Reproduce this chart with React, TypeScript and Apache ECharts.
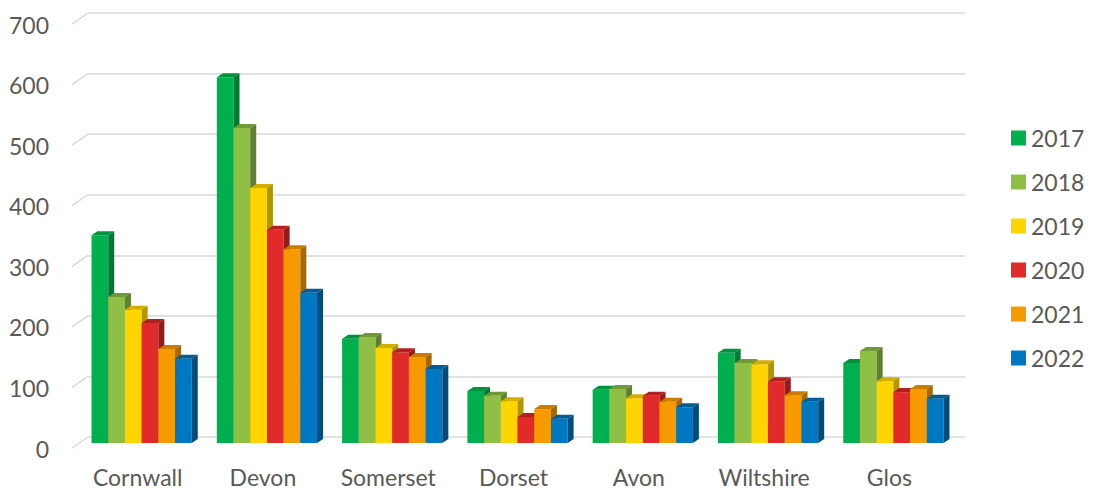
import React, { useEffect, useRef } from "react";
import * as echarts from "echarts";

const categories = ["Cornwall", "Devon", "Somerset", "Dorset", "Avon", "Wiltshire", "Glos"];
const years = ["2017", "2018", "2019", "2020", "2021", "2022"];
const v2017 = [343, 604, 172, 86, 88, 149, 132];
const v2018 = [241, 520, 175, 78, 89, 132, 152];
const v2019 = [220, 421, 157, 69, 74, 130, 102];
const v2020 = [198, 352, 150, 43, 78, 102, 84];
const v2021 = [155, 320, 142, 56, 68, 79, 89];
const v2022 = [139, 248, 122, 40, 59, 68, 73];
const seriesValues = [v2017, v2018, v2019, v2020, v2021, v2022];
const yTicks = [0, 100, 200, 300, 400, 500, 600, 700];

const frontColors = ["#00B04F", "#8FBF45", "#FFD500", "#E12A2A", "#F79A00", "#0078C1"];
const topColors = ["#00943F", "#719A36", "#D1AE00", "#B21F1F", "#C97C00", "#005D97"];
const sideColors = ["#007A33", "#5F812D", "#B39500", "#951A1A", "#A86700", "#004C7D"];

const FONT = "Lato";
const TEXT = "#595959";
const DX = -9; // front face shift (x)
const DY = 6; // front face shift (y)
const DEPTH_X = 6;
const DEPTH_Y = 4;

export default function App() {
  const ref = useRef<HTMLDivElement>(null);

  useEffect(() => {
    document.body.style.margin = "0";
    if (!ref.current) return;
    const chart = echarts.init(ref.current, null, { renderer: "svg" });

    const barSeries = years.map((year, si) => ({
      type: "custom",
      name: year,
      itemStyle: { color: frontColors[si] },
      data: seriesValues[si].map((v, ci) => [ci, v]),
      renderItem: (params: any, api: any) => {
        const cat = api.value(0);
        const v = api.value(1);
        const base = api.coord([cat, 0]);
        const top = api.coord([cat, v]);
        const band = api.size([1, 0])[0];
        const bw = (band * 0.8) / 6;
        const x0 = base[0] - 3 * bw + si * bw + DX;
        const yb = base[1] + DY;
        const yt = top[1] + DY;
        return {
          type: "group",
          children: [
            {
              type: "rect",
              shape: { x: x0, y: yt, width: bw, height: yb - yt },
              style: { fill: frontColors[si] },
            },
            {
              type: "polygon",
              shape: {
                points: [
                  [x0, yt],
                  [x0 + bw, yt],
                  [x0 + bw + DEPTH_X, yt - DEPTH_Y],
                  [x0 + DEPTH_X, yt - DEPTH_Y],
                ],
              },
              style: { fill: topColors[si] },
            },
            {
              type: "polygon",
              shape: {
                points: [
                  [x0 + bw, yt],
                  [x0 + bw + DEPTH_X, yt - DEPTH_Y],
                  [x0 + bw + DEPTH_X, yb - DEPTH_Y],
                  [x0 + bw, yb],
                ],
              },
              style: { fill: sideColors[si] },
            },
          ],
        };
      },
    }));

    const wallSeries = {
      type: "custom",
      name: "wall",
      silent: true,
      z: 1,
      data: yTicks.map((t) => [0, t]),
      renderItem: (params: any, api: any) => {
        const p = api.coord([0, api.value(1)]);
        const left = params.coordSys.x;
        return {
          type: "line",
          shape: { x1: left - 16, y1: p[1] + 11, x2: left, y2: p[1] },
          style: { stroke: "#d9d9d9", lineWidth: 1.5 },
        };
      },
    };

    chart.setOption({
      animation: false,
      textStyle: { fontFamily: FONT },
      grid: { left: 88, right: 128, top: 13, bottom: 55 },
      legend: {
        data: years,
        orient: "vertical",
        left: 1011,
        top: 126,
        padding: 0,
        itemWidth: 15,
        itemHeight: 15,
        itemGap: 20,
        icon: "rect",
        textStyle: { fontFamily: FONT, fontSize: 23, color: TEXT, lineHeight: 24 },
      },
      xAxis: {
        type: "category",
        data: categories,
        axisLine: { show: false },
        axisTick: { show: false },
        axisLabel: {
          interval: 0,
          hideOverlap: false,
          margin: 28,
          fontSize: 23,
          lineHeight: 23,
          fontFamily: FONT,
          color: TEXT,
          padding: [0, 26, 0, 0],
        },
      },
      yAxis: {
        type: "value",
        min: 0,
        max: 700,
        interval: 100,
        axisLine: { show: false },
        axisTick: { show: false },
        splitLine: { lineStyle: { color: "#d9d9d9", width: 1.5 } },
        axisLabel: {
          margin: 39,
          fontSize: 23,
          fontFamily: FONT,
          color: TEXT,
          verticalAlign: "top",
        },
      },
      series: [wallSeries, ...barSeries],
    });

    return () => chart.dispose();
  }, []);

  return <div ref={ref} style={{ width: 1093, height: 492 }} />;
}
